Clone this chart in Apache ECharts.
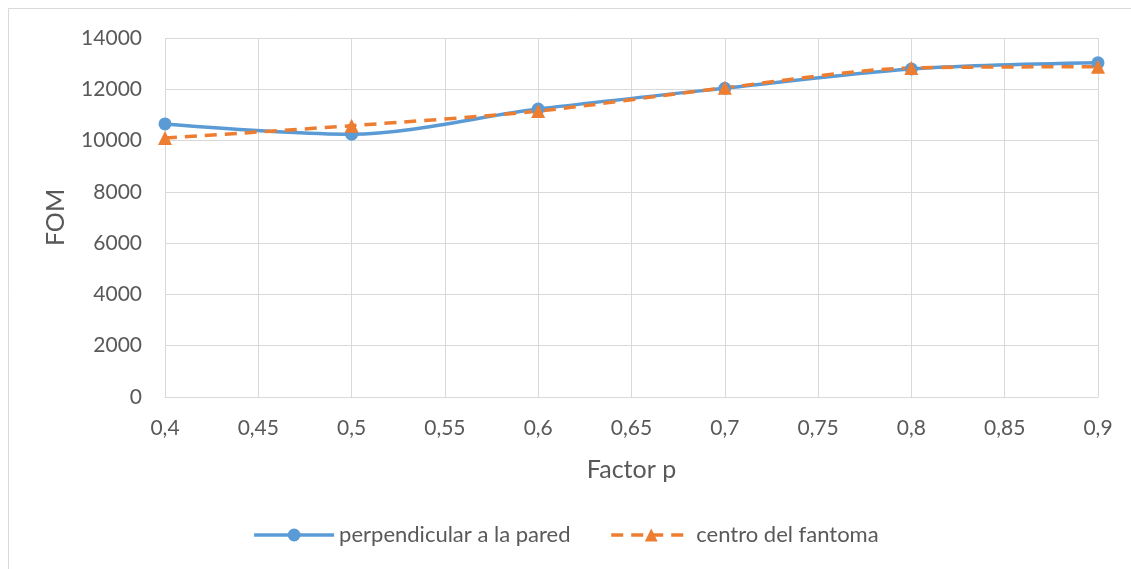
<!DOCTYPE html>
<html><head><meta charset="utf-8">
<script src="https://cdn.jsdelivr.net/npm/echarts@6/dist/echarts.min.js"></script>
<style>html,body{margin:0;padding:0;background:#fff}#c{width:1131px;height:569px}</style>
</head><body><div id="c"></div>
<script>
var factorP = [0.4, 0.5, 0.6, 0.7, 0.8, 0.9];
var perpendicular = [10650, 10250, 11230, 12040, 12790, 13030];
var centro = [10100, 10580, 11150, 12060, 12830, 12880];
var seriesNames = ['perpendicular a la pared', 'centro del fantoma'];

var txt = '#595959', font = 'Lato';
function fmt(v){ return String(Math.round(v*100)/100).replace('.', ','); }
var chart = echarts.init(document.getElementById('c'));
chart.setOption({
  backgroundColor: '#fff',
  animation: false,
  graphic: [{type:'rect', shape:{x:8.5,y:8.5,width:1140,height:580}, style:{fill:'none', stroke:'#d9d9d9', lineWidth:1}}],
  grid: {left:165, right:33, top:38, bottom:172},
  xAxis: {
    type:'value', min:0.4, max:0.9, interval:0.05,
    name:'Factor p', nameLocation:'middle', nameGap:60,
    nameTextStyle:{color:txt, fontSize:25, fontFamily:font},
    axisLine:{show:true, lineStyle:{color:'#d9d9d9'}},
    axisTick:{show:false},
    axisLabel:{color:txt, fontSize:21, fontFamily:font, margin:21, formatter:fmt},
    splitLine:{show:true, lineStyle:{color:'#d9d9d9'}}
  },
  yAxis: {
    type:'value', min:0, max:14000, interval:2000,
    name:'FOM', nameLocation:'middle', nameGap:97, nameRotate:90,
    nameTextStyle:{color:txt, fontSize:25, fontFamily:font},
    axisLine:{show:false}, axisTick:{show:false},
    axisLabel:{color:txt, fontSize:21, fontFamily:font, margin:23, formatter:function(v){return String(v);}},
    splitLine:{show:true, lineStyle:{color:'#d9d9d9'}}
  },
  legend: {
    bottom:18, left:'center', itemGap:39, itemWidth:80, itemHeight:16,
    textStyle:{color:txt, fontSize:22, fontFamily:font},
    lineStyle:{width:3.5},
    data: seriesNames
  },
  series: [
    {name:seriesNames[0], type:'line', smooth:0.3, data: factorP.map(function(x,i){return [x, perpendicular[i]];}),
     symbol:'circle', symbolSize:13, lineStyle:{color:'#5b9bd5', width:3.5}, itemStyle:{color:'#5b9bd5'}},
    {name:seriesNames[1], type:'line', smooth:0.3, data: factorP.map(function(x,i){return [x, centro[i]];}),
     symbol:'triangle', symbolSize:14, lineStyle:{color:'#ed7d31', width:3.5, type:[12,8]}, itemStyle:{color:'#ed7d31'}}
  ]
});
</script></body></html>
